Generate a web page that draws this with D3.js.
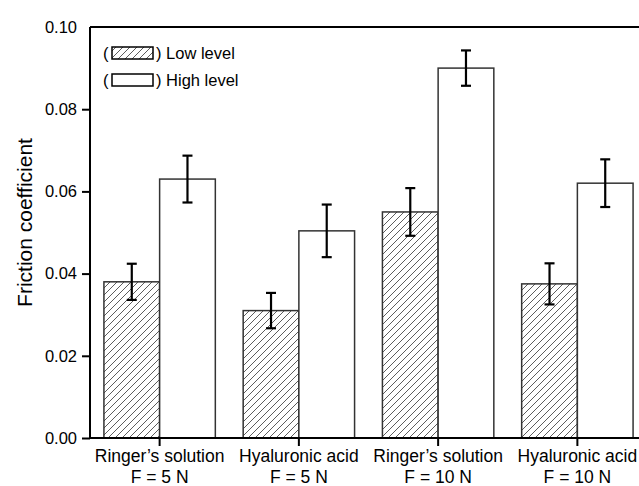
<!DOCTYPE html>
<html>
<head>
<meta charset="utf-8">
<script src="https://cdn.jsdelivr.net/npm/d3@7"></script>
<style>
	body{margin:0;background:#fff;}
	svg{display:block;}
	svg text{font-family:"Liberation Sans",Arial,sans-serif;fill:#000;}
</style>
</head>
<body>
<svg id="chart" width="639" height="486"></svg>
<script>
// data
const groups = ['Ringer\u2019s solution|F = 5 N','Hyaluronic acid|F = 5 N','Ringer\u2019s solution|F = 10 N','Hyaluronic acid|F = 10 N'];
const levels = ['Low level','High level'];
const lowMean = [0.038, 0.031, 0.055, 0.0375];
const lowErr = [0.0044, 0.0043, 0.0058, 0.0050];
const highMean = [0.063, 0.0504, 0.090, 0.062];
const highErr = [0.0057, 0.0064, 0.0043, 0.0058];
const yTicks = [0, 0.02, 0.04, 0.06, 0.08, 0.10];

const svg = d3.select('#chart');
const _m = {t:27,l:90,b:48};
const H = 486;
const plotRight = 647; // frame runs off the right edge of the picture

//hatch for the low level bars
const defs = svg.append('defs');
defs.append('pattern')
	.attr('id','hatch')
	.attr('patternUnits','userSpaceOnUse')
	.attr('width',7).attr('height',7)
	.append('path')
	.attr('d','M-1,1 l2,-2 M0,7 l7,-7 M6,8 l2,-2')
	.style('stroke','#333')
	.style('stroke-width',0.8);

const scaleX = d3.scaleBand()
	.domain(groups)
	.range([_m.l,plotRight])
	.padding(0);
const scaleLevel = d3.scaleBand()
	.domain(levels)
	.range([0,scaleX.bandwidth()])
	.paddingInner(0)
	.paddingOuter(0.25);
const scaleY = d3.scaleLinear()
	.domain([0,0.10])
	.range([H-_m.b,_m.t]);

const rows = groups.map((g,i)=>[
	{group:g,level:levels[0],value:lowMean[i],err:lowErr[i]},
	{group:g,level:levels[1],value:highMean[i],err:highErr[i]}
]).flat();

//bars
svg.append('g').attr('class','bars')
	.selectAll('rect')
	.data(rows)
	.enter()
	.append('rect')
	.attr('x',d=>scaleX(d.group)+scaleLevel(d.level))
	.attr('y',d=>scaleY(d.value))
	.attr('width',scaleLevel.bandwidth())
	.attr('height',d=>scaleY(0)-scaleY(d.value))
	.style('fill',d=>d.level===levels[0]?'url(#hatch)':'#fff')
	.style('stroke','#333')
	.style('stroke-width',1.5);

//error bars
const err = svg.append('g').attr('class','errors')
	.selectAll('g')
	.data(rows)
	.enter()
	.append('g')
	.attr('transform',d=>`translate(${scaleX(d.group)+scaleLevel(d.level)+scaleLevel.bandwidth()/2},0)`)
	.style('stroke','#000')
	.style('stroke-width',2.2);
err.append('line')
	.attr('y1',d=>scaleY(d.value+d.err))
	.attr('y2',d=>scaleY(d.value-d.err));
err.append('line')
	.attr('x1',-5).attr('x2',5)
	.attr('y1',d=>scaleY(d.value+d.err))
	.attr('y2',d=>scaleY(d.value+d.err));
err.append('line')
	.attr('x1',-5).attr('x2',5)
	.attr('y1',d=>scaleY(d.value-d.err))
	.attr('y2',d=>scaleY(d.value-d.err));

//frame: top line
svg.append('line')
	.attr('x1',_m.l).attr('x2',plotRight)
	.attr('y1',scaleY(0.10)).attr('y2',scaleY(0.10))
	.style('stroke','#000').style('stroke-width',2);

//y axis
const yAxis = svg.append('g')
	.attr('transform',`translate(${_m.l},0)`)
	.call(d3.axisLeft(scaleY).tickValues(yTicks).tickFormat(d3.format('.2f')).tickSize(8).tickPadding(5));
yAxis.select('.domain').attr('d',`M0,${scaleY(0)}V${scaleY(0.10)}`).style('stroke-width',2);
yAxis.selectAll('.tick line').style('stroke-width',2);
yAxis.selectAll('.tick text')
	.style('font-size','16.5px');
yAxis.select('.tick:last-of-type line').remove();

//x axis, ticks between the two bars of each group
const xAxis = svg.append('g')
	.attr('transform',`translate(0,${scaleY(0)})`)
	.call(d3.axisBottom(scaleX).tickSize(8).tickFormat(''));
xAxis.select('.domain').attr('d',`M${_m.l},0H${plotRight}`).style('stroke-width',2);
xAxis.selectAll('.tick line').style('stroke-width',2);
xAxis.selectAll('.tick').each(function(d){
	const parts = d.split('|');
	const t = d3.select(this).append('text')
		.attr('text-anchor','middle')
		.style('font-size','17.5px');
	t.append('tspan').attr('x',0).attr('y',24).text(parts[0]);
	t.append('tspan').attr('x',0).attr('y',45).text(parts[1]);
});

//y label
svg.append('text')
	.attr('transform',`translate(32,${(scaleY(0)+scaleY(0.10))/2-10}) rotate(-90)`)
	.attr('text-anchor','middle')
	.style('font-size','21px')
	.text('Friction coefficient');

//legend
const legend = svg.append('g').attr('class','legend')
	.selectAll('g')
	.data(levels)
	.enter()
	.append('g')
	.attr('transform',(d,i)=>`translate(103,${53+i*27})`);
legend.append('text')
	.attr('x',0).attr('dy',6)
	.style('font-size','16.5px')
	.text('(');
legend.append('rect')
	.attr('x',9).attr('y',-6)
	.attr('width',41).attr('height',12)
	.style('fill',(d,i)=>i===0?'url(#hatch)':'#fff')
	.style('stroke','#000')
	.style('stroke-width',1.5);
legend.append('text')
	.attr('x',53).attr('dy',6)
	.style('font-size','16.5px')
	.text(d=>') '+d);
</script>
</body>
</html>
